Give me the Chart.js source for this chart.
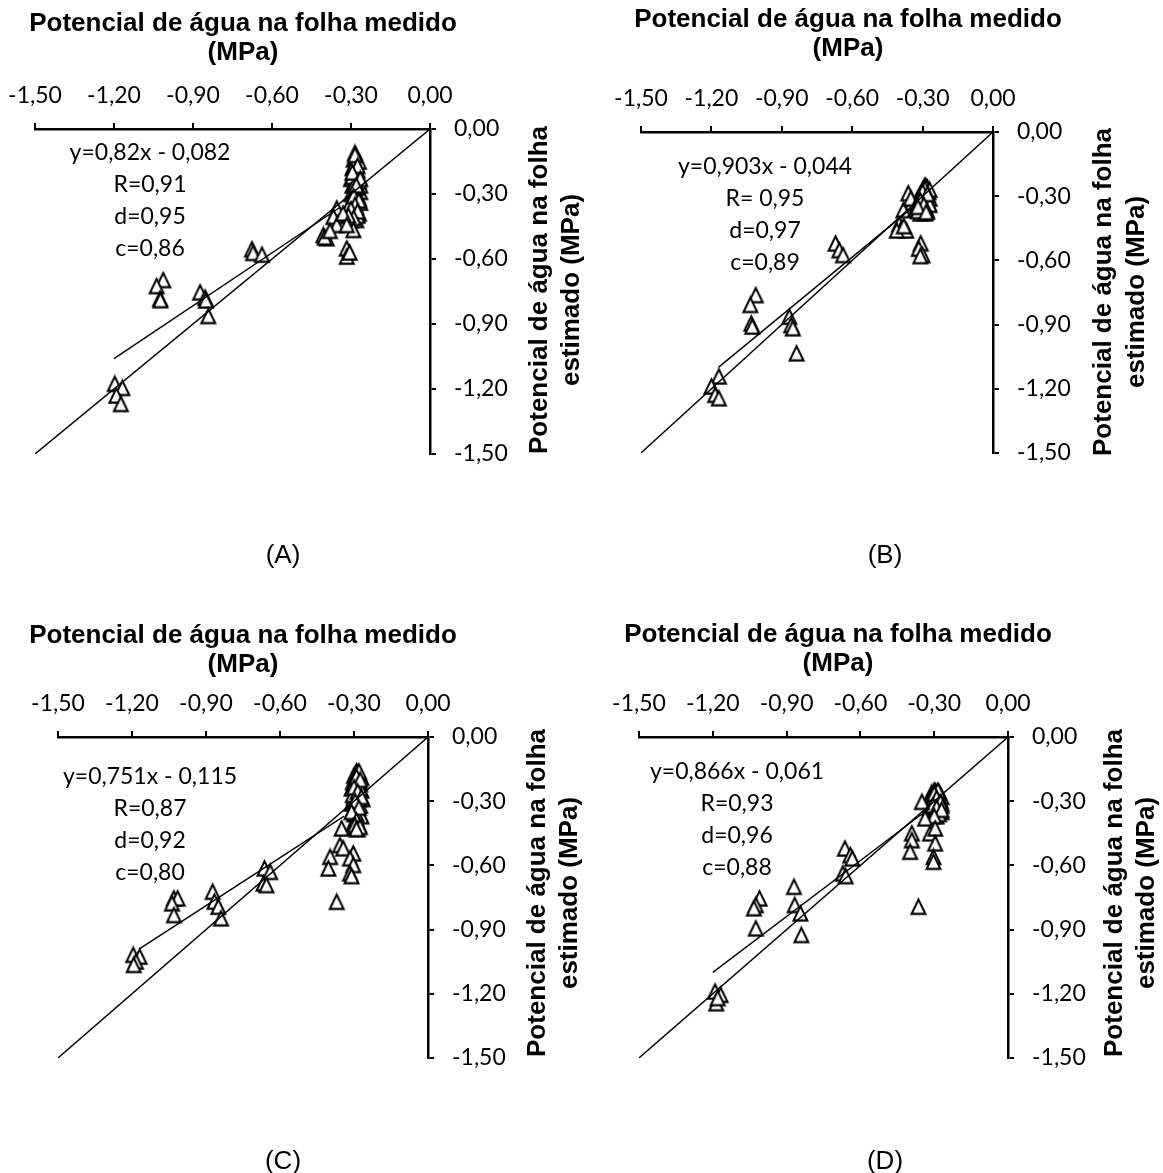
<!DOCTYPE html>
<html lang="pt">
<head>
<meta charset="utf-8">
<title>Potencial de água na folha</title>
<script src="https://cdn.jsdelivr.net/npm/chart.js@4.4.1/dist/chart.umd.min.js"></script>
<style>
  html, body { margin: 0; padding: 0; background: #fff; overflow: hidden; }
  #page { position: relative; width: 1163px; height: 1173px; background: #fff; overflow: hidden; }
  canvas { position: absolute; }
</style>
</head>
<body>
<div id="page">
  <canvas id="chartA" width="640" height="587" style="left:-40px;top:0px"></canvas>
  <canvas id="chartB" width="582" height="587" style="left:581px;top:0px"></canvas>
  <canvas id="chartC" width="640" height="586" style="left:-40px;top:587px"></canvas>
  <canvas id="chartD" width="582" height="586" style="left:581px;top:587px"></canvas>
</div>
<script>
"use strict";

// axis ticks and texts
const tickValues = [-1.5, -1.2, -0.9, -0.6, -0.3, 0];
const xTitle = ["Potencial de água na folha medido", "(MPa)"];
const yTitle = ["Potencial de água na folha", "estimado (MPa)"];
const panelLabels = ["(A)", "(B)", "(C)", "(D)"];
const equations = ["y=0,82x - 0,082", "y=0,903x - 0,044", "y=0,751x - 0,115", "y=0,866x - 0,061"];
const statR = ["R=0,91", "R= 0,95", "R=0,87", "R=0,93"];
const statD = ["d=0,95", "d=0,97", "d=0,92", "d=0,96"];
const statC = ["c=0,86", "c=0,89", "c=0,80", "c=0,88"];

// 1:1 line
const oneToOne = [-1.5, 0];

// (A)
const measuredA = [-0.285, -0.29, -0.28, -0.295, -0.275, -0.29, -0.27, -0.3, -0.28, -0.265, -0.295, -0.28, -0.265, -0.3, -0.275, -0.29, -0.265, -0.3, -0.28, -0.295, -0.27, -0.29, -0.3, -0.28,
  -0.28, -0.27, -0.29, -0.28, -0.295, -0.27, -0.285, -0.275, -0.29, -0.28, -0.27, -0.295, -0.285, -0.275, -0.3, -0.31,
  -0.285, -0.275, -0.295, -0.265, -0.28, -0.29, -0.27, -0.285, -0.3, -0.275, -0.29, -0.31,
  -0.354, -0.367, -0.354, -0.33, -0.405, -0.392, -0.4, -0.38, -0.291, -0.316, -0.316, -0.316, -0.305,
  -0.676, -0.672, -0.638, -1.013, -1.038, -1.025, -1.024, -0.873, -0.854, -0.851, -0.842, -1.197, -1.168, -1.191, -1.174];
const estimatedA = [-0.11, -0.14, -0.16, -0.18, -0.19, -0.21, -0.22, -0.23, -0.24, -0.26, -0.26, -0.28, -0.29, -0.3, -0.31, -0.33, -0.34, -0.35, -0.36, -0.38, -0.39, -0.4, -0.42, -0.42,
  -0.13, -0.15, -0.17, -0.2, -0.22, -0.24, -0.25, -0.27, -0.29, -0.3, -0.32, -0.34, -0.37, -0.4, -0.39, -0.36,
  -0.12, -0.17, -0.2, -0.23, -0.26, -0.31, -0.33, -0.35, -0.37, -0.38, -0.41, -0.4,
  -0.366, -0.405, -0.443, -0.39, -0.489, -0.504, -0.5, -0.47, -0.466, -0.443, -0.551, -0.589, -0.57,
  -0.555, -0.572, -0.58, -0.697, -0.725, -0.783, -0.79, -0.754, -0.778, -0.791, -0.863, -1.176, -1.195, -1.23, -1.269];
const fitXA = [-1.2, -0.34];
const fitYA = [-1.06, -0.36];

// (B)
const measuredB = [-0.29, -0.28, -0.3, -0.275, -0.29, -0.31, -0.28, -0.3, -0.27, -0.29, -0.32, -0.285, -0.3, -0.275, -0.31, -0.29, -0.3, -0.28, -0.31, -0.29, -0.361, -0.345, -0.382, -0.35, -0.33,
  -0.285, -0.295, -0.27, -0.3, -0.285, -0.31, -0.28, -0.295, -0.27, -0.3, -0.285, -0.32,
  -0.29, -0.3, -0.28, -0.31, -0.295, -0.32, -0.285,
  -0.4, -0.39, -0.37, -0.41, -0.38, -0.308, -0.316, -0.3, -0.31,
  -0.671, -0.655, -0.639, -1.011, -1.034, -1.03, -1.026, -0.868, -0.86, -0.853, -0.837, -1.168, -1.2, -1.184, -1.168];
const estimatedB = [-0.25, -0.26, -0.27, -0.28, -0.28, -0.29, -0.3, -0.3, -0.31, -0.31, -0.31, -0.32, -0.33, -0.33, -0.34, -0.35, -0.36, -0.37, -0.38, -0.38, -0.286, -0.333, -0.365, -0.31, -0.36,
  -0.255, -0.265, -0.27, -0.285, -0.295, -0.3, -0.315, -0.325, -0.34, -0.35, -0.36, -0.37,
  -0.265, -0.28, -0.29, -0.32, -0.34, -0.35, -0.375,
  -0.43, -0.45, -0.46, -0.46, -0.44, -0.52, -0.545, -0.575, -0.58,
  -0.521, -0.552, -0.575, -0.762, -0.808, -0.894, -0.909, -0.863, -0.902, -0.917, -1.034, -1.142, -1.189, -1.228, -1.244];
const fitXB = [-1.17, -0.34];
const fitYB = [-1.1, -0.35];

// (C)
const measuredC = [-0.29, -0.28, -0.3, -0.27, -0.285, -0.305, -0.275, -0.29, -0.31, -0.27, -0.295, -0.28, -0.3, -0.265, -0.29, -0.31, -0.275, -0.295, -0.28, -0.3, -0.27, -0.29,
  -0.285, -0.295, -0.28, -0.3, -0.275, -0.29, -0.305, -0.28, -0.3, -0.285, -0.305, -0.29, -0.3, -0.28,
  -0.28, -0.29, -0.275, -0.3, -0.285, -0.27, -0.295, -0.28, -0.31, -0.29, -0.305, -0.285,
  -0.296, -0.276, -0.35, -0.29, -0.357, -0.344, -0.397, -0.404, -0.303, -0.316, -0.303, -0.316, -0.31, -0.37,
  -0.663, -0.64, -0.667, -0.655, -0.873, -0.866, -0.85, -0.839, -1.03, -1.015, -1.038, -1.03, -1.195, -1.169, -1.184, -1.193];
const estimatedC = [-0.16, -0.17, -0.18, -0.19, -0.2, -0.21, -0.22, -0.23, -0.24, -0.25, -0.26, -0.27, -0.28, -0.29, -0.3, -0.31, -0.32, -0.33, -0.35, -0.36, -0.37, -0.38,
  -0.17, -0.19, -0.21, -0.22, -0.24, -0.25, -0.27, -0.29, -0.31, -0.32, -0.34, -0.36, -0.4, -0.41,
  -0.16, -0.185, -0.2, -0.235, -0.255, -0.28, -0.3, -0.33, -0.35, -0.39, -0.42, -0.43,
  -0.412, -0.42, -0.427, -0.43, -0.505, -0.52, -0.56, -0.614, -0.544, -0.567, -0.598, -0.637, -0.65, -0.77,
  -0.614, -0.63, -0.684, -0.692, -0.723, -0.769, -0.793, -0.847, -0.754, -0.754, -0.777, -0.832, -1.018, -1.026, -1.049, -1.065];
const fitXC = [-1.17, -0.34];
const fitYC = [-0.99, -0.37];

// (D)
const measuredD = [-0.3, -0.29, -0.31, -0.28, -0.3, -0.27, -0.32, -0.29, -0.28, -0.31, -0.27, -0.295, -0.32, -0.28, -0.3, -0.27, -0.31, -0.29,
  -0.295, -0.28, -0.31, -0.29, -0.305, -0.275, -0.3, -0.285, -0.31, -0.27, -0.29, -0.3, -0.28,
  -0.285, -0.3, -0.29, -0.275, -0.305, -0.29, -0.27, -0.3,
  -0.35, -0.337, -0.391, -0.391, -0.398, -0.317, -0.296, -0.296, -0.303, -0.303, -0.364,
  -0.663, -0.641, -0.633, -0.671, -0.66, -0.87, -0.867, -0.844, -0.84, -1.01, -1.025, -1.033, -1.025, -1.191, -1.168, -1.186, -1.18];
const estimatedD = [-0.25, -0.26, -0.26, -0.27, -0.28, -0.28, -0.29, -0.29, -0.3, -0.31, -0.31, -0.32, -0.33, -0.33, -0.34, -0.35, -0.36, -0.37,
  -0.255, -0.26, -0.275, -0.275, -0.29, -0.295, -0.305, -0.315, -0.325, -0.32, -0.34, -0.355, -0.36,
  -0.25, -0.265, -0.285, -0.305, -0.32, -0.33, -0.34, -0.37,
  -0.303, -0.38, -0.45, -0.482, -0.536, -0.45, -0.427, -0.497, -0.56, -0.583, -0.793,
  -0.521, -0.552, -0.567, -0.637, -0.65, -0.7, -0.785, -0.824, -0.925, -0.754, -0.785, -0.8, -0.894, -1.189, -1.205, -1.244, -1.22];
const fitXD = [-1.2, -0.35];
const fitYD = [-1.1, -0.36];

// page layout of each panel (canvas origin, plot box, text anchors)
const panels = [
  { id: "chartA", x: -40, y: 0, area: [35, 129, 430, 454], title: [243, 31, 60], yText: [540, 572, 290], stats: [150, 153], letter: [283, 563] },
  { id: "chartB", x: 581, y: 0, area: [641, 132, 993, 453], title: [848, 27, 56], yText: [1104, 1137, 292], stats: [765, 167], letter: [885, 563] },
  { id: "chartC", x: -40, y: 587, area: [58, 737, 428, 1058], title: [243, 643, 672], yText: [538, 570, 893], stats: [150, 777], letter: [283, 1169] },
  { id: "chartD", x: 581, y: 587, area: [639, 737, 1008, 1058], title: [838, 642, 671], yText: [1115, 1147, 893], stats: [737, 772], letter: [885, 1169] },
];

const X_SCALE_H = 50;
const Y_SCALE_W = 110;

function fmt(v) {
  return Number(v).toFixed(2).replace(".", ",");
}

function toPoints(xs, ys) {
  return xs.map((v, i) => ({ x: v, y: ys[i] }));
}

// Excel style triangle marker: white fill, black outline
function makeMarker() {
  const c = document.createElement("canvas");
  c.width = 19;
  c.height = 19;
  const g = c.getContext("2d");
  g.beginPath();
  g.moveTo(9.5, 2.4);
  g.lineTo(16.4, 16.6);
  g.lineTo(2.6, 16.6);
  g.closePath();
  g.fillStyle = "#fff";
  g.fill();
  g.lineWidth = 2.1;
  g.lineJoin = "miter";
  g.strokeStyle = "#000";
  g.stroke();
  return c;
}
const marker = makeMarker();

const panelText = {
  id: "panelText",
  afterDraw(chart, args, opts) {
    const p = panels[opts.index];
    const i = opts.index;
    const ctx = chart.ctx;
    ctx.save();
    ctx.fillStyle = "#000";

    ctx.font = "bold 26px 'Liberation Sans', Arial, sans-serif";
    ctx.textAlign = "center";
    ctx.textBaseline = "alphabetic";
    ctx.fillText(xTitle[0], p.title[0] - p.x, p.title[1] - p.y);
    ctx.fillText(xTitle[1], p.title[0] - p.x, p.title[2] - p.y);

    for (let k = 0; k < 2; k++) {
      ctx.save();
      ctx.translate(p.yText[k] - p.x, p.yText[2] - p.y);
      ctx.rotate(-Math.PI / 2);
      ctx.textBaseline = "middle";
      ctx.fillText(yTitle[k], 0, 0);
      ctx.restore();
    }

    ctx.font = "23px Lato, 'Open Sans', sans-serif";
    ctx.textBaseline = "middle";
    const lines = [equations[i], statR[i], statD[i], statC[i]];
    for (let k = 0; k < lines.length; k++) {
      ctx.fillText(lines[k], p.stats[0] - p.x, p.stats[1] - p.y + k * 32);
    }

    ctx.font = "26px 'Liberation Sans', Arial, sans-serif";
    ctx.textBaseline = "alphabetic";
    ctx.fillText(panelLabels[i], p.letter[0] - p.x, p.letter[1] - p.y);
    ctx.restore();
  },
};

function makePanel(index, measured, estimated, fitX, fitY) {
  const p = panels[index];
  const canvas = document.getElementById(p.id);
  const left = p.area[0] - p.x;
  const top = p.area[1] - p.y;
  const right = p.area[2] - p.x;
  const bottom = p.area[3] - p.y;

  return new Chart(canvas, {
    type: "scatter",
    data: {
      datasets: [
        {
          data: toPoints(oneToOne, oneToOne),
          showLine: true,
          borderColor: "#000",
          borderWidth: 1.4,
          pointRadius: 0,
        },
        {
          data: toPoints(fitX, fitY),
          showLine: true,
          borderColor: "#000",
          borderWidth: 1.4,
          pointRadius: 0,
        },
        {
          data: toPoints(measured, estimated),
          showLine: false,
          pointStyle: marker,
          pointRadius: 9,
        },
      ],
    },
    options: {
      responsive: false,
      animation: false,
      events: [],
      layout: {
        padding: {
          left: left,
          top: top - X_SCALE_H,
          right: canvas.width - right - Y_SCALE_W,
          bottom: canvas.height - bottom,
        },
      },
      plugins: {
        legend: { display: false },
        tooltip: { enabled: false },
        panelText: { index: index },
      },
      scales: {
        x: {
          type: "linear",
          position: "top",
          min: -1.5,
          max: 0,
          afterBuildTicks: (s) => { s.ticks = tickValues.map((v) => ({ value: v })); },
          afterFit: (s) => { s.height = X_SCALE_H; },
          grid: { drawOnChartArea: false, drawTicks: true, tickLength: 6, color: "#000", lineWidth: 2 },
          border: { display: true, color: "#000", width: 2.5 },
          ticks: {
            color: "#000",
            font: { family: "Lato", size: 23 },
            padding: 14,
            maxRotation: 0,
            autoSkip: false,
            callback: (v) => fmt(v),
          },
        },
        y: {
          type: "linear",
          position: "right",
          min: -1.5,
          max: 0,
          afterBuildTicks: (s) => { s.ticks = tickValues.map((v) => ({ value: v })); },
          afterFit: (s) => { s.width = Y_SCALE_W; },
          grid: { drawOnChartArea: false, drawTicks: true, tickLength: 6, color: "#000", lineWidth: 2 },
          border: { display: true, color: "#000", width: 2.5 },
          ticks: {
            color: "#000",
            font: { family: "Lato", size: 23 },
            padding: 18,
            autoSkip: false,
            callback: (v) => fmt(v),
          },
        },
      },
    },
    plugins: [panelText],
  });
}

makePanel(0, measuredA, estimatedA, fitXA, fitYA);
makePanel(1, measuredB, estimatedB, fitXB, fitYB);
makePanel(2, measuredC, estimatedC, fitXC, fitYC);
makePanel(3, measuredD, estimatedD, fitXD, fitYD);
</script>
</body>
</html>
